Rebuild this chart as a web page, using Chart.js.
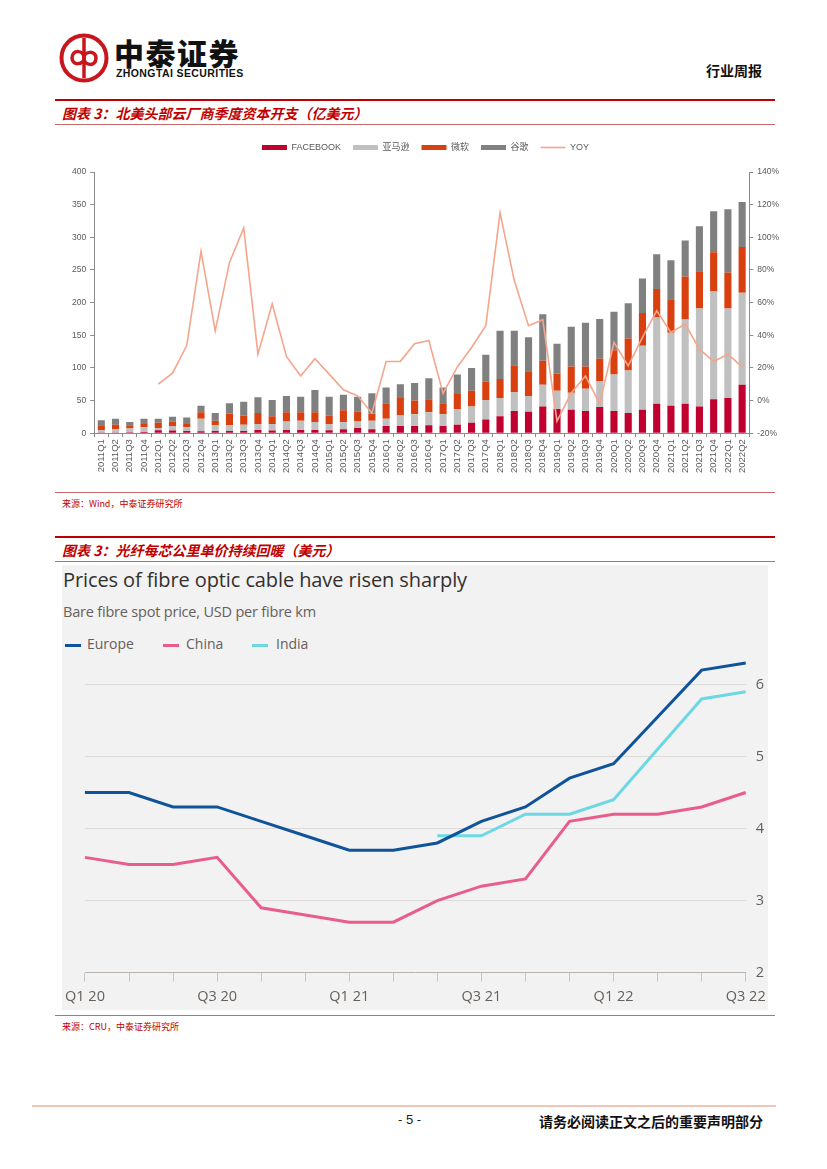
<!DOCTYPE html>
<html>
<head>
<meta charset="utf-8">
<script src="https://cdn.jsdelivr.net/npm/chart.js@4.4.0/dist/chart.umd.min.js"></script>
<style>
  body { margin: 0; width: 827px; height: 1169px; background: #fff; position: relative; font-family: "Liberation Sans", "Noto Sans CJK SC", sans-serif; overflow: hidden; }
  .abs { position: absolute; }
  .cn { font-family: "Noto Sans CJK SC", sans-serif; }
  .figtitle { color: #c00000; font-size: 14px; font-weight: bold; font-style: italic; font-family: "Noto Sans CJK SC", sans-serif; white-space: nowrap; }
  .src { color: #c00000; font-size: 9px; font-family: "Noto Sans CJK SC", sans-serif; white-space: nowrap; }
  .ft { font-family: "Open Sans", "Noto Sans", sans-serif; white-space: nowrap; }
</style>
</head>
<body>

<!-- header -->
<svg class="abs" style="left:58px;top:32px" width="52" height="52" viewBox="0 0 52 52">
  <circle cx="26" cy="26" r="22.5" fill="none" stroke="#c8161d" stroke-width="4"/>
  <line x1="26" y1="6" x2="26" y2="46" stroke="#c8161d" stroke-width="3.5"/>
  <path d="M26 26 C26 18 14 17 14 26 C14 34 26 33 26 26 C26 19 38 18 38 26 C38 35 26 34 26 26" fill="none" stroke="#c8161d" stroke-width="3.5"/>
</svg>
<div class="abs cn" style="left:114px;top:30px;font-size:30px;font-weight:900;color:#111;letter-spacing:1.5px">中泰证券</div>
<div class="abs" style="left:116px;top:67px;font-size:10.5px;font-weight:bold;color:#111;letter-spacing:0.4px">ZHONGTAI SECURITIES</div>
<div class="abs cn" style="left:706px;top:60px;font-size:14px;font-weight:bold;color:#111">行业周报</div>

<!-- figure 1 -->
<div class="abs" style="left:55px;top:99px;width:720px;height:2px;background:#c00000"></div>
<div class="abs figtitle" style="left:62px;top:103px">图表 3：北美头部云厂商季度资本开支（亿美元）</div>
<div class="abs" style="left:55px;top:124px;width:720px;height:1px;background:#c46a6a"></div>
<div class="abs" style="left:62px;top:131px;width:733px;height:359px"><canvas id="capexChart"></canvas></div>
<div class="abs" style="left:55px;top:492px;width:720px;height:1px;background:#c46a6a"></div>
<div class="abs src" style="left:62px;top:497px">来源：Wind，中泰证券研究所</div>

<!-- figure 2 -->
<div class="abs" style="left:55px;top:536px;width:720px;height:2px;background:#c00000"></div>
<div class="abs figtitle" style="left:62px;top:540px">图表 3：光纤每芯公里单价持续回暖（美元）</div>
<div class="abs" style="left:55px;top:561px;width:720px;height:1px;background:#c46a6a"></div>
<div class="abs" style="left:62px;top:565px;width:706px;height:445px;background:#f2f2f2"></div>
<div class="abs ft" style="left:63px;top:566px;font-size:20px;color:#33302e;letter-spacing:-0.1px">Prices of fibre optic cable have risen sharply</div>
<div class="abs ft" style="left:63px;top:602px;font-size:14.5px;color:#66605c;letter-spacing:-0.2px">Bare fibre spot price, USD per fibre km</div>
<div class="abs" style="left:65px;top:644px;width:16px;height:3px;background:#0f5499"></div>
<div class="abs ft" style="left:87px;top:634px;font-size:14px;color:#66605c">Europe</div>
<div class="abs" style="left:163px;top:644px;width:16px;height:3px;background:#e95d8c"></div>
<div class="abs ft" style="left:186px;top:634px;font-size:14px;color:#66605c">China</div>
<div class="abs" style="left:252px;top:644px;width:16px;height:3px;background:#6dd8e4"></div>
<div class="abs ft" style="left:276px;top:634px;font-size:14px;color:#66605c">India</div>
<div class="abs" style="left:58px;top:637px;width:720px;height:378px"><canvas id="fibreChart"></canvas></div>
<div class="abs" style="left:55px;top:1015px;width:720px;height:1px;background:#c46a6a"></div>
<div class="abs src" style="left:62px;top:1020px">来源：CRU，中泰证券研究所</div>

<!-- footer -->
<div class="abs" style="left:32px;top:1105px;width:744px;height:2px;background:#f2c4b4"></div>
<div class="abs" style="left:398px;top:1112px;font-size:13px;color:#222">- 5 -</div>
<div class="abs cn" style="left:539px;top:1111px;font-size:14px;font-weight:bold;color:#111">请务必阅读正文之后的重要声明部分</div>

<script>
// quarterly capex, 亿美元
const quarters = [
  '2011Q1','2011Q2','2011Q3','2011Q4','2012Q1','2012Q2','2012Q3','2012Q4',
  '2013Q1','2013Q2','2013Q3','2013Q4','2014Q1','2014Q2','2014Q3','2014Q4',
  '2015Q1','2015Q2','2015Q3','2015Q4','2016Q1','2016Q2','2016Q3','2016Q4',
  '2017Q1','2017Q2','2017Q3','2017Q4','2018Q1','2018Q2','2018Q3','2018Q4',
  '2019Q1','2019Q2','2019Q3','2019Q4','2020Q1','2020Q2','2020Q3','2020Q4',
  '2021Q1','2021Q2','2021Q3','2021Q4','2022Q1','2022Q2'
];
const facebook = [1,1,1.5,2,4.5,4,3.5,3,3.5,3.5,3.5,5,4,5,5,5,4.5,6,8,6,11,11,11,12,11,13,16,21,26,34,33,41,37,36,34,40,34,31,36,45,42,45,41,52,54,74];
const amazon = [4,5,5.5,7,3.5,7,5.5,19,8.5,8.5,9.5,9,10,13,14,12,9.5,11,10,13,11,16,18,20,18,24,25,30,28,29,24,33,28,26,34,39,56,65,98,132,112,129,150,165,137,141];
const microsoft = [7,7,5,5,8,7,5,10,7,18,14,17,12,14,13,15,13,18,15,11,24,27,21,20,17,23,24,28,29,41,38,37,26,40,34,35,37,49,50,44,51,66,57,60,55,70];
const google = [8,9,5,8,6,7,10,10,12,16,21,24,25,25,24,34,29,24,23,31,24,21,27,32,24,30,35,41,74,53,52,71,46,61,67,61,59,54,53,53,60,55,69,63,97,69];
const yoy = [null,null,null,null,10,16.8,33.7,91.4,42.7,84.6,105.7,28.4,59.3,27,15.1,25.6,16.2,6.6,2.9,-7.7,23.9,24,34.8,36.8,4.4,20.6,32.5,45.8,115,73.5,45.8,49.5,-12.6,4.6,15,-2,35.6,21.2,38.7,55,41.7,46.9,31.5,23.9,28.4,20.6];

// bare fibre spot price, every two months
const periods = ['Q1 20','','','Q3 20','','','Q1 21','','','Q3 21','','','Q1 22','','','Q3 22'];
const europe = [4.5,4.5,4.3,4.3,4.1,3.9,3.7,3.7,3.8,4.1,4.3,4.7,4.9,5.55,6.2,6.3];
const china = [3.6,3.5,3.5,3.6,2.9,2.8,2.7,2.7,3.0,3.2,3.3,4.1,4.2,4.2,4.3,4.5];
const india = [null,null,null,null,null,null,null,null,3.9,3.9,4.2,4.2,4.4,5.1,5.8,5.9];

const axisGray = '#595959';
const smallFont = { family: 'Liberation Sans, Noto Sans CJK SC', size: 8.5 };

function barSet(label, data, color) {
    return {
        type: 'bar',
        label: label,
        data: data,
        backgroundColor: color,
        borderWidth: 0,
        pointStyle: 'rect',
        stack: 'capex',
        yAxisID: 'y',
        order: 2
    };
}

// push the plot a little further below the legend
const legendGap = {
    id: 'legendGap',
    beforeInit(chart) {
        const fit = chart.legend.fit;
        chart.legend.fit = function () {
            fit.bind(chart.legend)();
            this.height += 10;
        };
    }
};

new Chart(document.getElementById('capexChart').getContext('2d'), {
    data: {
        labels: quarters,
        datasets: [
            barSet('FACEBOOK', facebook, '#c0002f'),
            barSet('亚马逊', amazon, '#c0c0c0'),
            barSet('微软', microsoft, '#d94010'),
            barSet('谷歌', google, '#808080'),
            {
                type: 'line',
                label: 'YOY',
                data: yoy,
                borderColor: '#f5a58c',
                backgroundColor: '#f5a58c',
                borderWidth: 1.6,
                pointRadius: 0,
                pointStyle: 'line',
                tension: 0,
                yAxisID: 'y1',
                order: 1
            }
        ]
    },
    options: {
        responsive: true,
        maintainAspectRatio: false,
        animation: false,
        layout: { padding: { left: 6, right: 12, top: 0, bottom: 15 } },
        plugins: {
            legend: {
                position: 'top',
                labels: {
                    usePointStyle: true,
                    pointStyleWidth: 25,
                    boxHeight: 5,
                    padding: 12,
                    color: axisGray,
                    font: { family: 'Liberation Sans, Noto Sans CJK SC', size: 9 },
                    sort: (a, b) => a.datasetIndex - b.datasetIndex
                }
            },
            tooltip: { enabled: false }
        },
        datasets: { bar: { barPercentage: 0.5, categoryPercentage: 1 } },
        scales: {
            x: {
                stacked: true,
                grid: { drawOnChartArea: false, drawTicks: true, tickLength: 4, color: '#8c8c8c' },
                border: { color: '#8c8c8c' },
                ticks: { color: axisGray, font: { family: 'Liberation Sans', size: 9.5 }, minRotation: 90, maxRotation: 90, autoSkip: false, padding: 2 }
            },
            y: {
                stacked: true,
                min: 0,
                max: 400,
                grid: { drawOnChartArea: false, tickLength: 4, color: '#8c8c8c' },
                border: { color: '#8c8c8c' },
                ticks: { stepSize: 50, color: axisGray, font: smallFont, padding: 4 }
            },
            y1: {
                position: 'right',
                min: -20,
                max: 140,
                grid: { drawOnChartArea: false, tickLength: 4, color: '#8c8c8c' },
                border: { color: '#8c8c8c' },
                ticks: {
                    stepSize: 20,
                    color: axisGray,
                    font: smallFont,
                    padding: 4,
                    callback: function (value) {
                        return value + '%';
                    }
                }
            }
        }
    },
    plugins: [legendGap]
});

const ftGray = '#66605c';
new Chart(document.getElementById('fibreChart').getContext('2d'), {
    type: 'line',
    data: {
        labels: periods,
        datasets: [
            { label: 'Europe', data: europe, borderColor: '#0f5499', borderWidth: 3, pointRadius: 0, tension: 0 },
            { label: 'China', data: china, borderColor: '#e95d8c', borderWidth: 3, pointRadius: 0, tension: 0 },
            { label: 'India', data: india, borderColor: '#6dd8e4', borderWidth: 3, pointRadius: 0, tension: 0, spanGaps: false }
        ]
    },
    options: {
        responsive: true,
        maintainAspectRatio: false,
        animation: false,
        layout: { padding: { left: 2, right: 4, top: 2, bottom: 2 } },
        plugins: { legend: { display: false }, tooltip: { enabled: false } },
        scales: {
            x: {
                offset: false,
                grid: { drawOnChartArea: false, drawTicks: true, tickLength: 9, color: '#c9c5c1' },
                border: { display: false },
                ticks: { color: ftGray, font: { family: 'Open Sans', size: 14.5 }, autoSkip: false, maxRotation: 0, padding: 7 }
            },
            y: {
                position: 'right',
                min: 2,
                max: 6.4,
                afterBuildTicks: function (scale) {
                    scale.ticks = [2, 3, 4, 5, 6].map(v => ({ value: v }));
                },
                grid: {
                    drawTicks: false,
                    color: function (ctx) {
                        return ctx.tick && ctx.tick.value === 2 ? '#b8b3ae' : '#dcd9d6';
                    }
                },
                border: { display: false },
                ticks: { color: ftGray, font: { family: 'Open Sans', size: 14.5 }, padding: 10 }
            }
        }
    }
});
</script>
</body>
</html>
